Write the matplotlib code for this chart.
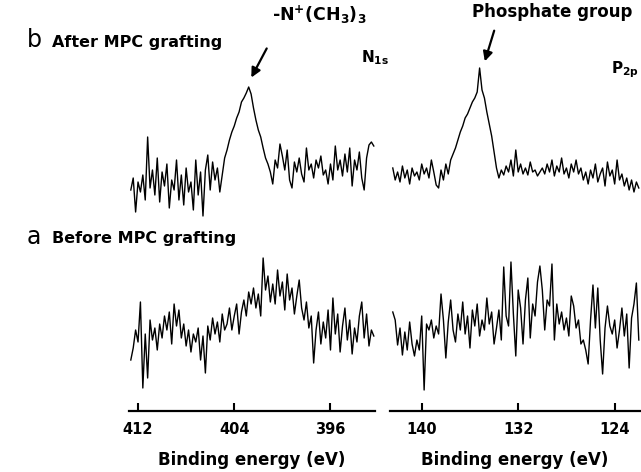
import matplotlib
matplotlib.use("Agg")
import matplotlib.pyplot as plt
import numpy as np

plt.rcParams['font.family'] = ['DejaVu Sans']
plt.rcParams['mathtext.fontset'] = 'custom'
plt.rcParams['mathtext.rm'] = 'DejaVu Sans:bold'
plt.rcParams['mathtext.bf'] = 'DejaVu Sans:bold'
plt.rcParams['mathtext.default'] = 'bf'

# binding energy grids (0.2 eV steps)
n1s_energy = np.arange(412.6, 392.3, -0.2)
p2p_energy = np.arange(142.4, 121.9, -0.2)

# intensities (arbitrary units)
n1s_after = [40, 52, 18, 48, 38, 55, 30, 93, 42, 60, 35, 72, 28, 58, 44, 66, 22, 50, 40, 70,
             30, 55, 25, 62, 38, 48, 20, 70, 35, 58, 14, 60, 75, 40, 68, 50, 62, 38, 55, 72,
             80, 90, 98, 104, 112, 118, 128, 132, 137, 143, 136, 122, 110, 100, 93, 82, 72, 66, 58, 46,
             70, 62, 86, 74, 60, 80, 50, 42, 68, 58, 72, 56, 48, 82, 60, 66, 52, 70, 62, 74,
             55, 60, 46, 66, 50, 84, 60, 70, 54, 76, 58, 82, 44, 70, 60, 78, 52, 40, 72, 85,
             88, 84]
n1s_before = [40, 52, 70, 58, 98, 12, 66, 22, 80, 60, 72, 50, 76, 62, 84, 70, 88, 56, 96, 74,
              90, 62, 76, 54, 70, 48, 66, 58, 72, 40, 64, 27, 74, 60, 82, 66, 78, 58, 86, 70,
              76, 92, 70, 84, 96, 66, 88, 100, 84, 108, 96, 112, 92, 106, 84, 142, 110, 124, 98, 116,
              96, 130, 104, 118, 90, 126, 100, 112, 86, 104, 120, 92, 80, 98, 72, 84, 37, 70, 88, 56,
              78, 62, 90, 50, 102, 66, 86, 48, 74, 92, 60, 80, 46, 72, 58, 84, 98, 62, 86, 54,
              70, 64]
p2p_after = [62, 50, 58, 48, 64, 52, 60, 46, 62, 54, 58, 50, 66, 56, 62, 52, 70, 58, 45, 42,
             60, 50, 66, 56, 70, 76, 82, 90, 98, 104, 112, 116, 122, 128, 132, 138, 162, 140, 132, 118,
             106, 94, 78, 62, 52, 60, 55, 64, 58, 70, 54, 80, 58, 66, 56, 62, 55, 68, 58, 60,
             54, 58, 62, 56, 66, 58, 70, 54, 64, 58, 72, 56, 62, 52, 66, 58, 70, 56, 62, 50,
             58, 46, 60, 52, 66, 48, 56, 62, 44, 68, 54, 60, 46, 70, 50, 56, 44, 52, 40, 50,
             38, 48, 42]
p2p_before = [88, 80, 55, 72, 45, 68, 50, 78, 56, 44, 60, 50, 84, 10, 76, 70, 80, 62, 74, 66,
              106, 80, 42, 78, 100, 70, 58, 86, 70, 98, 66, 84, 52, 90, 74, 96, 64, 80, 70, 102,
              76, 88, 56, 72, 90, 60, 133, 84, 74, 138, 86, 44, 110, 92, 56, 100, 122, 62, 96, 84,
              118, 134, 110, 70, 100, 94, 136, 60, 96, 76, 88, 70, 82, 64, 104, 94, 72, 80, 56, 60,
              50, 36, 80, 115, 72, 112, 60, 26, 72, 94, 74, 66, 80, 52, 70, 92, 64, 86, 32, 82,
              96, 117, 60]

n1s_ticks = [412, 404, 396]
p2p_ticks = [140, 132, 124]

W, H = 641, 472
fig = plt.figure(figsize=(W / 100, H / 100), dpi=100)


def fx(x):
    return x / W


def fy(y):
    return 1 - y / H


ax1 = fig.add_axes([fx(129), 61 / H, 246 / W, 411 / H])
ax2 = fig.add_axes([fx(390), 61 / H, 250 / W, 411 / H])

panels = [
    (ax1, n1s_energy, n1s_after, n1s_before, (412.75, 392.3), n1s_ticks),
    (ax2, p2p_energy, p2p_after, p2p_before, (142.63, 121.9), p2p_ticks),
]
for ax, e, after, before, xlim, ticks in panels:
    ax.plot(e[:len(after)], np.array(after) + 181, color='black', lw=1.0)
    ax.plot(e[:len(before)], np.array(before) + 11, color='black', lw=1.0)
    ax.set_xlim(*xlim)
    ax.set_ylim(0, 411)
    for s in ['top', 'left', 'right']:
        ax.spines[s].set_visible(False)
    ax.spines['bottom'].set_linewidth(1.6)
    ax.set_yticks([])
    ax.set_xticks(ticks)
    ax.set_xticklabels([str(t) for t in ticks], fontsize=10.5, fontweight='bold')
    ax.tick_params(axis='x', direction='in', length=6, width=1.5, pad=8)
    ax.set_xlabel('Binding energy (eV)', fontsize=12, fontweight='bold', labelpad=10)
    ax.patch.set_alpha(0)

# panel labels
fig.text(fx(27), fy(40), 'b', fontsize=17, va='center', ha='left')
fig.text(fx(52), fy(42), 'After MPC grafting', fontsize=11.5, fontweight='bold', va='center')
fig.text(fx(27), fy(237), 'a', fontsize=17, va='center', ha='left')
fig.text(fx(52), fy(239), 'Before MPC grafting', fontsize=11.5, fontweight='bold', va='center')
fig.text(fx(361), fy(58), r'N$_{1s}$', fontsize=11, fontweight='bold', va='center')
fig.text(fx(611), fy(70), r'P$_{2p}$', fontsize=11, fontweight='bold', va='center')

# peak annotations
arrow = dict(arrowstyle='-|>', lw=1.6, color='black', mutation_scale=14)
fig.text(fx(272), fy(15), r'-N$^{+}$(CH$_3$)$_3$', fontsize=12.5, fontweight='bold', va='center')
fig.add_artist(matplotlib.patches.FancyArrowPatch((fx(268), fy(46)), (fx(250), fy(80)),
                                                  transform=fig.transFigure, **arrow))
fig.text(fx(472), fy(12), 'Phosphate group', fontsize=12, fontweight='bold', va='center')
fig.add_artist(matplotlib.patches.FancyArrowPatch((fx(495), fy(28)), (fx(484), fy(64)),
                                                  transform=fig.transFigure, **arrow))

fig.savefig('out.png', dpi=100)
